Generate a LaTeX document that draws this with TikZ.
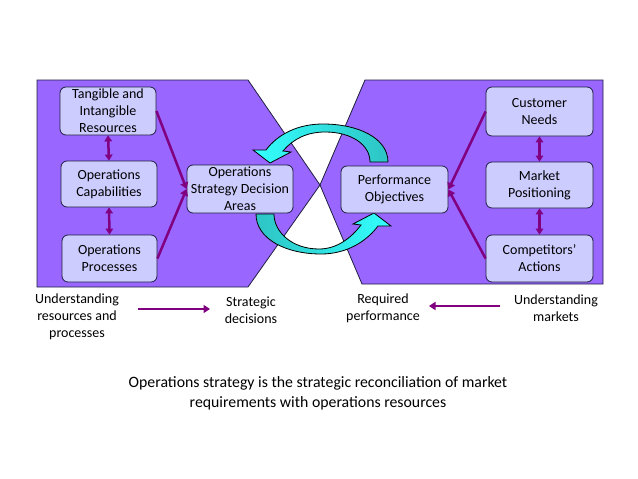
\documentclass[tikz,border=0pt]{standalone}
\usepackage{fontspec}
\setmainfont{Carlito}
\usetikzlibrary{arrows.meta}
\definecolor{shapefill}{HTML}{9966FF}
\definecolor{boxfill}{HTML}{CCCCFF}
\definecolor{arrowpurple}{HTML}{800080}
\definecolor{cyanhead}{HTML}{33FFFF}
\definecolor{cyantail}{HTML}{2EC4C4}
\definecolor{edgecol}{HTML}{1F1F3F}
\begin{document}
\begin{tikzpicture}[x=1pt,y=-1pt,
  panel/.style={fill=shapefill, draw=edgecol, line width=0.8pt, line join=miter},
  box/.style={draw=edgecol, fill=boxfill, rounded corners=6pt, line width=0.8pt, align=center, inner sep=0pt, font=\fontsize{14}{17}\selectfont},
  link/.style={draw=arrowpurple, line width=2.5pt, -{Triangle[length=6.5pt,width=8pt]}},
  dlink/.style={draw=arrowpurple, line width=2.5pt, {Triangle[length=6pt,width=7.5pt]}-{Triangle[length=6pt,width=7.5pt]}},
  lbl/.style={align=center, font=\fontsize{14}{17}\selectfont, inner sep=0pt},
  cyc/.style={draw=black, line width=0.8pt}
]
\useasboundingbox (0,0) rectangle (638,479);
\fill[white] (0,0) rectangle (638,479);

% panels
\draw[panel] (37,80) -- (248,80) -- (320,185) -- (248,287) -- (37,287) -- cycle;
\draw[panel] (365,80) -- (603,80) -- (603,284) -- (362,284) -- (320,185) -- cycle;

% cyclic arrows
\draw[cyc, left color=cyanhead, right color=cyantail]
 (388,162) .. controls (388,138) and (358,124) .. (323,124)
 .. controls (298,124) and (278,134) .. (266,150)
 -- (253,150) -- (270,163) -- (291,152) -- (283,151)
 .. controls (293,139) and (307,132) .. (325,132)
 .. controls (352,132) and (370,145) .. (370,162) -- cycle;
\draw[cyc, left color=cyantail, right color=cyanhead]
 (256,214) .. controls (256,239) and (286,254) .. (321,254)
 .. controls (346,254) and (366,242) .. (378,226)
 -- (391,226) -- (374,213) -- (353,224) -- (361,225)
 .. controls (351,238) and (337,249) .. (319,249)
 .. controls (292,249) and (274,232) .. (274,214) -- cycle;

% boxes
\node[box, minimum width=96pt, minimum height=48pt] (tang) at (108,111) {Tangible and\\Intangible\\Resources};
\node[box, minimum width=96pt, minimum height=46pt] (cap) at (109,184) {Operations\\Capabilities};
\node[box, minimum width=95pt, minimum height=47pt] (proc) at (109.5,258.5) {Operations\\Processes};
\node[box, minimum width=106pt, minimum height=48pt] (opsd) at (240,189) {Operations\\Strategy Decision\\Areas};
\node[box, minimum width=107pt, minimum height=49pt] (cust) at (539.5,111.5) {Customer\\Needs};
\node[box, minimum width=107pt, minimum height=46pt] (mark) at (539.5,185) {Market\\Positioning};
\node[box, minimum width=107pt, minimum height=47pt] (comp) at (539.5,258.5) {Competitors’\\Actions};
\node[box, minimum width=107pt, minimum height=47pt] (perf) at (394.5,189.5) {Performance\\Objectives};

% connectors
\draw[dlink] (tang.south) -- (cap.north);
\draw[dlink] (cap.south) -- (proc.north);
\draw[dlink] (cust.south) -- (mark.north);
\draw[dlink] (mark.south) -- (comp.north);
\draw[link] (tang.east) -- (opsd.west);
\draw[link] (proc.east) -- (opsd.west);
\draw[link] (cust.west) -- (perf.east);
\draw[link] (comp.west) -- (perf.east);

% bottom labels
\node[lbl] (ur) at (77,317) {Understanding\\resources and\\processes};
\node[lbl] (sd) at (251,310.5) {Strategic\\decisions};
\node[lbl] (rp) at (383,308.5) {Required\\performance};
\node[lbl] (um) at (556,308.5) {Understanding\\markets};
\coordinate (a1s) at (138,309);
\coordinate (a1e) at (210,309);
\coordinate (a2s) at (500,306);
\coordinate (a2e) at (429,306);
\draw[link] (a1s) -- (a1e);
\draw[link] (a2s) -- (a2e);

% caption
\node[align=center, inner sep=0pt, font=\fontsize{15.8}{20}\selectfont] (cap2) at (318,393) {Operations strategy is the strategic reconciliation of market\\requirements with operations resources};
\end{tikzpicture}
\end{document}
